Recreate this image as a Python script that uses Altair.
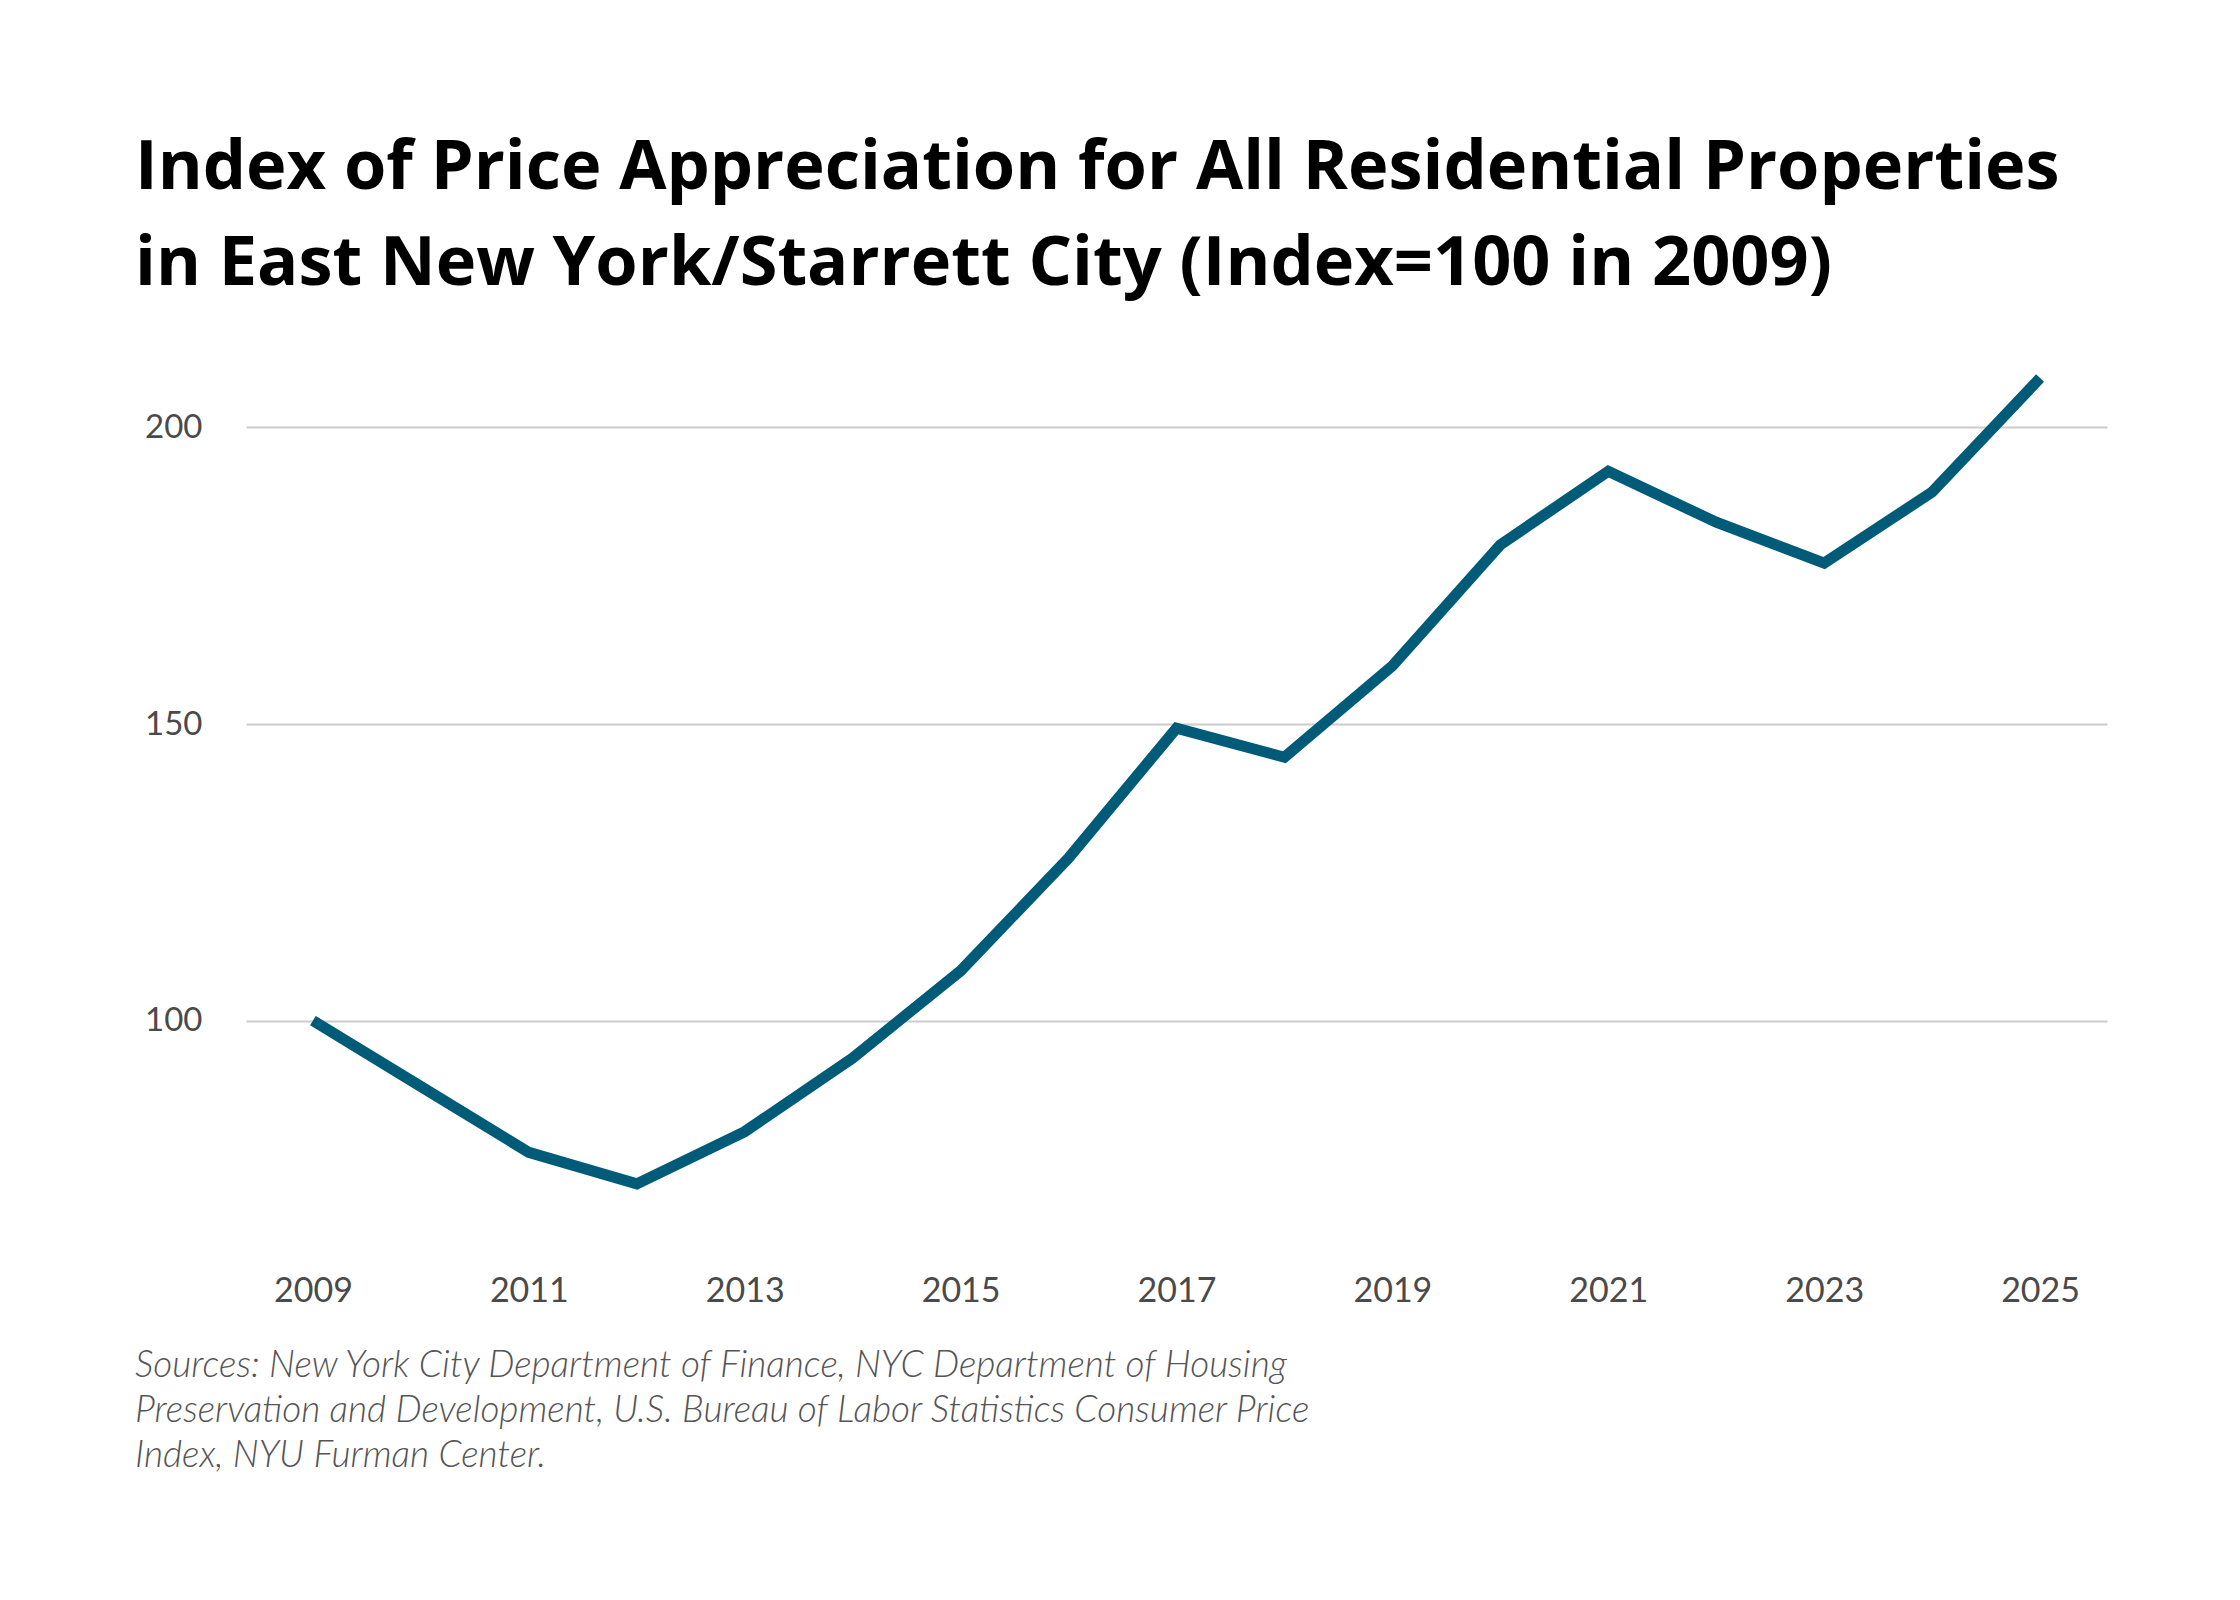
import altair as alt
import pandas as pd

# ---- data ----
years = list(range(2009, 2026))
index_values = [100.0, 88.9, 77.8, 72.5, 81.3, 93.7, 108.4, 127.4, 149.3,
                144.4, 159.8, 180.2, 192.6, 184.0, 177.1, 189.1, 208.3]
x_tick_years = list(range(2009, 2026, 2))
y_tick_values = [100, 150, 200]
title_lines = [
    "Index of Price Appreciation for All Residential Properties",
    "in East New York/Starrett City (Index=100 in 2009)",
]
source_lines = [
    "Sources: New York City Department of Finance, NYC Department of Housing",
    "Preservation and Development, U.S. Bureau of Labor Statistics Consumer Price",
    "Index, NYU Furman Center.",
]

df = pd.DataFrame({"year": years, "index": index_values})
src_df = pd.DataFrame({"t": ["\n".join(source_lines)]})

LABEL_COLOR = "#4a4a4a"
LABEL_FONT = "Lato"

line = alt.Chart(df).mark_line(color="#005b79", strokeWidth=11).encode(
    x=alt.X(
        "year:Q",
        scale=alt.Scale(domain=[2008.38, 2025.62], nice=False, zero=False),
        axis=alt.Axis(
            values=x_tick_years, format="d", title=None, grid=False,
            domain=False, ticks=False, labelPadding=16, labelFontSize=34,
            labelColor=LABEL_COLOR, labelFont=LABEL_FONT,
        ),
    ),
    y=alt.Y(
        "index:Q",
        scale=alt.Scale(domain=[60, 210], nice=False, zero=False),
        axis=alt.Axis(
            values=y_tick_values, title=None, grid=True, gridColor="#cccccc",
            gridWidth=2, domain=False, ticks=False, labelPadding=44,
            labelFontSize=33, labelColor=LABEL_COLOR, labelFont=LABEL_FONT,
        ),
    ),
)

sources = alt.Chart(src_df).mark_text(
    align="left", baseline="alphabetic", lineBreak="\n", lineHeight=45,
    fontSize=37, font="Lato", fontStyle="italic", fontWeight=300,
    color="#555555",
).encode(x=alt.value(-111), y=alt.value(1009), text="t:N")

chart = alt.layer(line, sources).properties(
    width=1861,
    height=890,
    title=alt.Title(
        title_lines, anchor="start", frame="bounds", fontSize=68.5,
        font="Open Sans", fontWeight="bold", color="#000000", lineHeight=96,
        offset=57,
    ),
    autosize=alt.AutoSizeParams(type="none"),
    padding={"left": 238, "top": 360, "right": 125, "bottom": 360},
).configure_view(stroke=None)

chart.save("out.html", embed_options={"renderer": "svg", "actions": False})
